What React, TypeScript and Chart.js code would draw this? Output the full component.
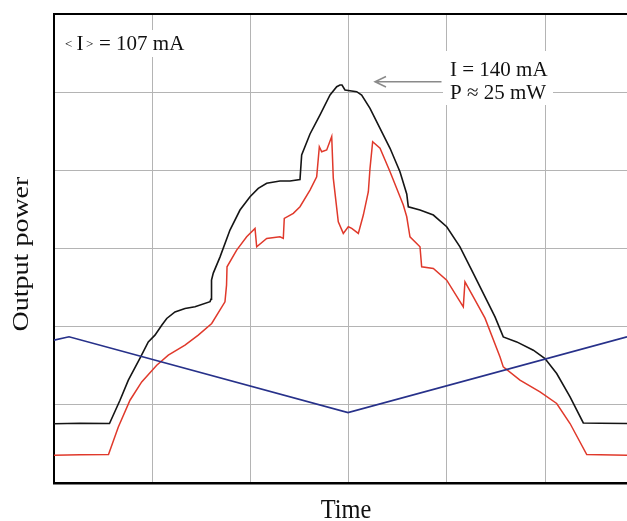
import React, { useEffect, useRef } from "react";
import { Chart, registerables } from "chart.js";

Chart.register(...registerables);

// Time axis in arbitrary units (one grid division = 100), power in arbitrary units (one division = 100)
const blackX = [0, 26.5, 56.5, 67.2, 75.7, 87.6, 96.0, 102.8, 109.7, 114.8, 123.2, 133.4, 143.6, 158.9, 159.9, 160.4, 162.2, 169.0, 179.2, 189.4, 199.6, 208.0, 216.6, 230.1, 240.3, 250.5, 252.2, 260.7, 270.9, 281.1, 287.9, 291.2, 293.3, 296.3, 308.2, 313.3, 321.8, 332.0, 342.2, 352.3, 359.2, 360.8, 372.7, 386.3, 399.9, 413.4, 427.0, 440.6, 449.1, 457.5, 471.2, 488.1, 500.0, 511.9, 525.5, 539.0, 556.0, 583.5];
const blackY = [75.8, 76.4, 76.1, 105.9, 131.5, 159.7, 180.5, 189.1, 201.9, 210.5, 218.9, 223.3, 225.4, 232.0, 235.2, 259.5, 268.5, 289.0, 323.6, 349.2, 366.2, 376.9, 383.4, 386.3, 386.3, 388.2, 419.6, 446.5, 470.8, 496.4, 507.0, 509.2, 509.2, 502.8, 500.6, 496.4, 479.4, 453.8, 428.2, 398.2, 369.7, 353.4, 349.2, 342.8, 327.8, 302.2, 268.1, 233.9, 212.5, 186.9, 180.5, 169.9, 159.3, 140.1, 110.1, 76.8, 76.4, 76.1];

const redX = [0, 26.5, 55.5, 65.5, 77.4, 89.3, 104.6, 116.4, 133.4, 146.9, 160.6, 174.1, 175.7, 176.2, 186.0, 196.2, 204.7, 206.4, 216.6, 230.1, 233.5, 234.5, 243.7, 250.5, 260.7, 267.5, 270.2, 272.6, 277.7, 282.8, 284.4, 289.5, 294.6, 299.7, 303.2, 309.9, 315.0, 320.1, 321.8, 324.5, 332.0, 342.2, 355.7, 359.2, 362.5, 372.7, 374.4, 386.3, 399.9, 416.8, 418.5, 427.0, 438.9, 454.2, 457.5, 474.5, 494.9, 511.9, 525.5, 542.5, 556.0, 583.5];
const redY = [35.5, 36.1, 36.4, 71.7, 105.9, 129.3, 150.7, 163.5, 176.3, 189.1, 204.1, 231.8, 253.1, 276.6, 298.0, 315.0, 325.7, 302.2, 312.9, 315.0, 312.9, 338.5, 344.9, 353.4, 374.8, 391.8, 430.2, 423.8, 426.0, 443.3, 390.1, 334.2, 319.3, 327.8, 325.7, 319.3, 342.8, 372.6, 402.6, 436.6, 428.2, 398.2, 355.6, 340.6, 315.0, 302.2, 276.6, 274.5, 259.5, 225.4, 257.4, 238.2, 210.9, 161.3, 148.5, 131.5, 116.5, 101.7, 76.1, 36.4, 36.1, 35.5];

const blueX = [0, 15.3, 299.4, 583.5];
const blueY = [182.7, 187.0, 90.1, 187.0];

const xMin = 0;
const xMax = 583.5;
const xStep = 100;
const yMin = 0;
const yMax = 600;
const yStep = 100;

const yAxisTitle = "Output power";
const xAxisTitle = "Time";
const meanLabelParts = ["<", "I", ">", "= 107 mA"];
const peakLabelLines = ["I = 140 mA", "P \u2248 25 mW"];

const SERIF = '"Liberation Serif", "Times New Roman", serif';

function zip(xs: number[], ys: number[]) {
  return xs.map((x, i) => ({ x, y: ys[i] }));
}

const textPlugin = {
  id: "textPlugin",
  afterDatasetsDraw(chart: any) {
    const ctx = chart.ctx as CanvasRenderingContext2D;
    ctx.save();
    // white backgrounds behind the labels
    ctx.fillStyle = "#ffffff";
    ctx.fillRect(60, 30, 132, 27);
    ctx.fillRect(443, 51, 110, 54);

    ctx.fillStyle = "#111111";
    ctx.textBaseline = "alphabetic";
    ctx.textAlign = "left";

    // < I > = 107 mA
    ctx.font = `13px ${SERIF}`;
    ctx.fillText(meanLabelParts[0], 65, 47.5);
    ctx.font = `21px ${SERIF}`;
    ctx.fillText(meanLabelParts[1], 76.5, 50);
    ctx.font = `13px ${SERIF}`;
    ctx.fillText(meanLabelParts[2], 86, 47.5);
    ctx.font = `21px ${SERIF}`;
    ctx.fillText(meanLabelParts[3], 99, 50);

    // peak labels
    ctx.fillText(peakLabelLines[0], 450, 76);
    ctx.fillText(peakLabelLines[1], 450, 99);

    // arrow
    ctx.strokeStyle = "#8a8a8a";
    ctx.lineWidth = 1.5;
    ctx.beginPath();
    ctx.moveTo(441.5, 81.7);
    ctx.lineTo(375, 81.7);
    ctx.moveTo(386, 76.5);
    ctx.lineTo(375, 81.7);
    ctx.lineTo(386, 87);
    ctx.stroke();

    // axis titles
    ctx.fillStyle = "#111111";
    ctx.font = `28px ${SERIF}`;
    ctx.textAlign = "center";
    ctx.save();
    ctx.translate(346, 518);
    ctx.scale(0.87, 1);
    ctx.fillText(xAxisTitle, 0, 0);
    ctx.restore();

    ctx.save();
    ctx.translate(28, 254);
    ctx.scale(0.86, 1);
    ctx.rotate(-Math.PI / 2);
    ctx.fillText(yAxisTitle, 0, 0);
    ctx.restore();

    ctx.restore();
  },
};

export default function App() {
  const canvasRef = useRef<HTMLCanvasElement | null>(null);

  useEffect(() => {
    const canvas = canvasRef.current;
    if (!canvas) return;
    const gridColor = (v: number, edge: number[]) =>
      edge.includes(v) ? "#000000" : "#b4b4b4";
    const chart = new Chart(canvas, {
      type: "line",
      data: {
        datasets: [
          {
            label: "current",
            data: zip(blueX, blueY),
            borderColor: "#27318a",
            borderWidth: 1.6,
            pointRadius: 0,
            tension: 0,
          },
          {
            label: "power 2",
            data: zip(redX, redY),
            borderColor: "#e0392b",
            borderWidth: 1.5,
            pointRadius: 0,
            tension: 0,
          },
          {
            label: "power 1",
            data: zip(blackX, blackY),
            borderColor: "#151515",
            borderWidth: 1.6,
            pointRadius: 0,
            tension: 0,
          },
        ],
      },
      options: {
        animation: false,
        responsive: false,
        devicePixelRatio: 1,
        layout: { padding: { left: 54, top: 14, right: 0, bottom: 38 } },
        plugins: {
          legend: { display: false },
          tooltip: { enabled: false },
          title: { display: false },
        },
        scales: {
          x: {
            type: "linear",
            min: xMin,
            max: xMax,
            ticks: { display: false, stepSize: xStep, includeBounds: false },
            grid: {
              drawTicks: false,
              color: (c: any) => gridColor(c.tick?.value, [xMin]),
              lineWidth: (c: any) => (c.tick?.value === xMin ? 2 : 1),
            },
            border: { display: true, color: "#000000", width: 2.5 },
          },
          y: {
            type: "linear",
            min: yMin,
            max: yMax,
            ticks: { display: false, stepSize: yStep },
            grid: {
              drawTicks: false,
              color: (c: any) => gridColor(c.tick?.value, [yMin, yMax]),
              lineWidth: (c: any) =>
                c.tick?.value === yMax || c.tick?.value === yMin ? 2 : 1,
            },
            border: { display: true, color: "#000000", width: 2 },
          },
        },
      },
      plugins: [textPlugin],
    });
    return () => chart.destroy();
  }, []);

  return (
    <div
      style={{
        position: "fixed",
        left: 0,
        top: 0,
        width: 627,
        height: 521,
        background: "#ffffff",
      }}
    >
      <canvas ref={canvasRef} width={627} height={521} />
    </div>
  );
}
